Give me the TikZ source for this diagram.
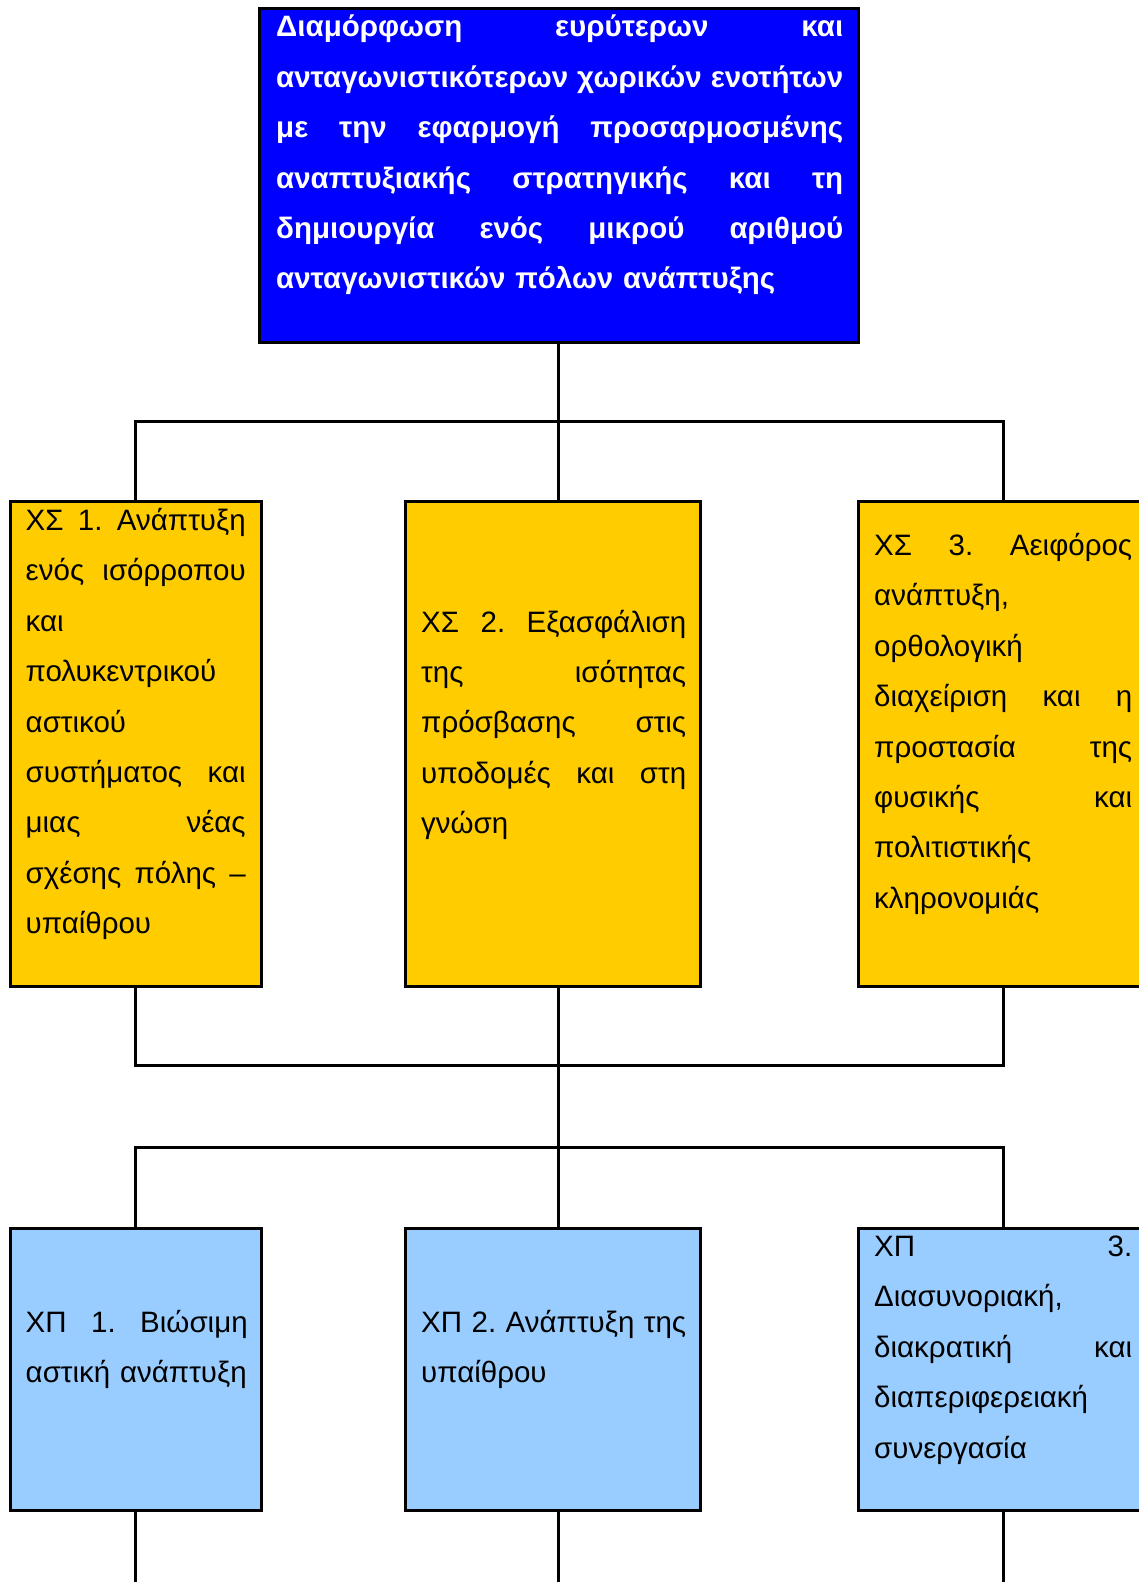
\documentclass[tikz,border=0pt]{standalone}
\usepackage{fontspec}
\setmainfont{Liberation Sans}
\definecolor{goalblue}{RGB}{0,0,255}
\definecolor{axisyellow}{RGB}{255,204,0}
\definecolor{prioblue}{RGB}{153,204,255}
\tikzset{x=1pt, y=-1pt,
  box/.style={draw, line width=3pt, inner sep=0pt, outer sep=0pt, anchor=north west},
  boxtext/.style={anchor=base west, inner sep=0pt, align=left,
    font=\fontsize{29.5}{50.4}\selectfont},
  link/.style={line width=3pt}}

\begin{document}
\begin{tikzpicture}
\useasboundingbox (0,0) rectangle (1139,1582);
\node[box, fill=goalblue, minimum width=599pt, minimum height=334pt] (top) at (259,8) {};
\node[box, fill=axisyellow, minimum width=251pt, minimum height=485pt] (xs1) at (10,501) {};
\node[box, fill=axisyellow, minimum width=295pt, minimum height=485pt] (xs2) at (405,501) {};
\node[box, fill=axisyellow, minimum width=290pt, minimum height=485pt] (xs3) at (858,501) {};
\node[box, fill=prioblue, minimum width=251pt, minimum height=282pt] (xp1) at (10,1228) {};
\node[box, fill=prioblue, minimum width=295pt, minimum height=282pt] (xp2) at (405,1228) {};
\node[box, fill=prioblue, minimum width=290pt, minimum height=282pt] (xp3) at (858,1228) {};

\node[boxtext, text width=567pt, text=white] (toptxt) at (276,36.8) {\bfseries
Διαμόρφωση\hfill ευρύτερων\hfill και\\
ανταγωνιστικότερων\hfill χωρικών\hfill ενοτήτων\\
με\hfill την\hfill εφαρμογή\hfill προσαρμοσμένης\\
αναπτυξιακής\hfill στρατηγικής\hfill και\hfill τη\\
δημιουργία\hfill ενός\hfill μικρού\hfill αριθμού\\
ανταγωνιστικών πόλων ανάπτυξης};
\node[boxtext, text width=220pt] (xs1txt) at (25.5,530.5) {
ΧΣ\hfill 1.\hfill Ανάπτυξη\\
ενός\hfill ισόρροπου\\
και\\
πολυκεντρικού\\
αστικού\\
συστήματος\hfill και\\
μιας\hfill νέας\\
σχέσης\hfill πόλης\hfill –\\
υπαίθρου};
\node[boxtext, text width=265pt] (xs2txt) at (421,632) {
ΧΣ\hfill 2.\hfill Εξασφάλιση\\
της\hfill ισότητας\\
πρόσβασης\hfill στις\\
υποδομές\hfill και\hfill στη\\
γνώση};
\node[boxtext, text width=258pt] (xs3txt) at (874,555.5) {
ΧΣ\hfill 3.\hfill Αειφόρος\\
ανάπτυξη,\\
ορθολογική\\
διαχείριση\hfill και\hfill η\\
προστασία\hfill της\\
φυσικής\hfill και\\
πολιτιστικής\\
κληρονομιάς};
\node[boxtext, text width=222pt] (xp1txt) at (25.5,1332) {
ΧΠ\hfill 1.\hfill Βιώσιμη\\
\mbox{αστική ανάπτυξη}};
\node[boxtext, text width=265pt] (xp2txt) at (421,1332) {
ΧΠ\hfill 2.\hfill Ανάπτυξη\hfill της\\
υπαίθρου};
\node[boxtext, text width=258pt] (xp3txt) at (874,1256.5) {
ΧΠ\hfill 3.\\
Διασυνοριακή,\\
διακρατική\hfill και\\
διαπεριφερειακή\\
συνεργασία};

\coordinate (bar1) at (top.south |- 0,421);
\coordinate (bar2) at (top.south |- 0,1065);
\coordinate (bar3) at (top.south |- 0,1147);
\coordinate (edge) at (top.south |- 0,1590);
\draw[link] (top.south) -- (bar1);
\draw[link] (xs1.north) |- (bar1) -| (xs3.north);
\draw[link] (bar1) -- (bar1 |- xs2.north);
\draw[link] (xs1.south) |- (bar2) -| (xs3.south);
\draw[link] (bar1 |- xs2.south) -- (bar2) -- (bar3);
\draw[link] (xp1.north) |- (bar3) -| (xp3.north);
\draw[link] (bar3) -- (bar3 |- xp2.north);
\foreach \b in {xp1,xp3}
{
  \draw[link] (\b.south) -- (\b.south |- edge);
}
\draw[link] (bar3 |- xp2.south) -- (edge);
\end{tikzpicture}
\end{document}
